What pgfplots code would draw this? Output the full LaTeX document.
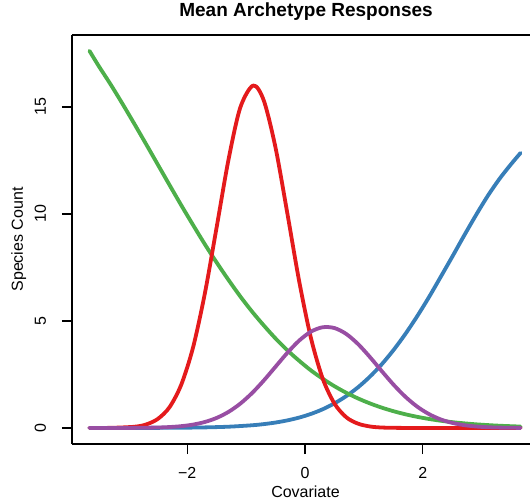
\documentclass[border=0pt]{standalone}
\usepackage{fontspec}
\setmainfont{Liberation Sans}
\usepackage{pgfplots}
\pgfplotsset{compat=1.18}
\definecolor{cred}{HTML}{E41A1C}
\definecolor{cblue}{HTML}{377EB8}
\definecolor{cgreen}{HTML}{4DAF4A}
\definecolor{cpurple}{HTML}{984EA3}
\begin{document}
\begin{tikzpicture}
\begin{axis}[
  scale only axis, width=458bp, height=409bp,
  xmin=-3.956, xmax=3.82, ymin=-0.75, ymax=18.36,
  axis y line*=left, axis x line=box,
  axis line style={line width=1.2bp, black},
  xtick={-2,0,2}, xticklabels={−2,0,2},
  ytick={0,5,10,15}, yticklabels={0,5,10,15},
  xtick pos=left, ytick pos=left,
  tick align=outside, major tick length=10bp,
  tick style={line width=1.2bp, black},
  font=\fontsize{16bp}{19bp}\selectfont,
  xticklabel style={anchor=base, yshift=-24bp},
  yticklabel style={xshift=-16bp, rotate=90, anchor=base},
  title={\fontsize{19bp}{22bp}\selectfont\bfseries Mean Archetype Responses},
  title style={at={(axis description cs:0.511,1.0318)}, anchor=base},
  xlabel={Covariate},
  xlabel style={at={(axis description cs:0.5098,-0.132)}, anchor=base},
  ylabel={Species Count},
  ylabel style={at={(axis description cs:-0.107,0.5)}, anchor=base, rotate=0},
  every axis plot/.append style={line width=3.8bp, line cap=round, line join=round, smooth, no markers},
  clip=true,
]
% blue
\addplot[cblue] coordinates {
(-3.66,0.0002) (-2.9,0.0015) (-2.5,0.0042) (-2.1,0.0107) (-1.7,0.0257) (-1.3,0.058)
(-0.9,0.125) (-0.7,0.179) (-0.5,0.253) (-0.3,0.353) (-0.1,0.484) (0.1,0.655)
(0.3,0.873) (0.5,1.148) (0.7,1.487) (0.9,1.899) (1.1,2.392) (1.3,2.966)
(1.5,3.63) (1.7,4.375) (1.9,5.20) (2.1,6.09) (2.3,7.04) (2.5,8.00)
(2.7,8.98) (2.9,9.93) (3.1,10.83) (3.3,11.63) (3.5,12.33) (3.66,12.85)
};
% green
\addplot[cgreen] coordinates {
(-3.66,17.62) (-3.5,16.90) (-3.3,16.05) (-3.1,15.15) (-2.9,14.22) (-2.7,13.27)
(-2.5,12.31) (-2.3,11.35) (-2.1,10.40) (-1.9,9.48) (-1.7,8.58) (-1.5,7.73)
(-1.3,6.92) (-1.1,6.15) (-0.9,5.44) (-0.7,4.79) (-0.5,4.18) (-0.3,3.63)
(-0.1,3.14) (0.1,2.69) (0.3,2.30) (0.5,1.95) (0.7,1.644) (0.9,1.379)
(1.1,1.149) (1.3,0.952) (1.5,0.784) (1.7,0.641) (1.9,0.522) (2.1,0.422)
(2.3,0.339) (2.5,0.271) (2.7,0.216) (2.9,0.170) (3.1,0.134) (3.3,0.104)
(3.5,0.081) (3.66,0.065)
};
% red
\addplot[cred] coordinates {
(-3.66,0) (-3.3,0.005) (-2.9,0.055) (-2.7,0.16) (-2.5,0.42) (-2.3,0.97)
(-2.1,2.03) (-1.9,3.77) (-1.7,6.29) (-1.5,9.38) (-1.3,12.52) (-1.1,14.96)
(-0.88,16.00) (-0.7,15.30) (-0.5,13.09) (-0.3,10.03) (-0.1,6.87) (0.1,4.21)
(0.3,2.31) (0.5,1.14) (0.7,0.50) (0.9,0.20) (1.1,0.07) (1.3,0.02)
(1.6,0.003) (2.0,0) (2.8,0) (3.66,0)
};
% purple
\addplot[cpurple] coordinates {
(-3.66,0.0001) (-3.3,0.0006) (-2.9,0.004) (-2.5,0.02) (-2.3,0.043) (-2.1,0.084)
(-1.9,0.157) (-1.7,0.279) (-1.5,0.469) (-1.3,0.748) (-1.1,1.133) (-0.9,1.627)
(-0.7,2.216) (-0.5,2.863) (-0.3,3.509) (-0.1,4.079) (0.1,4.498) (0.3,4.705)
(0.5,4.668) (0.7,4.392) (0.9,3.921) (1.1,3.320) (1.3,2.666) (1.5,2.031)
(1.7,1.468) (1.9,1.006) (2.1,0.654) (2.3,0.403) (2.5,0.236) (2.7,0.131)
(2.9,0.069) (3.1,0.034) (3.3,0.016) (3.66,0.002)
};
\end{axis}
\pgfresetboundingbox
\useasboundingbox (-72bp,-60bp) rectangle (458bp,444bp);
\end{tikzpicture}
\end{document}
